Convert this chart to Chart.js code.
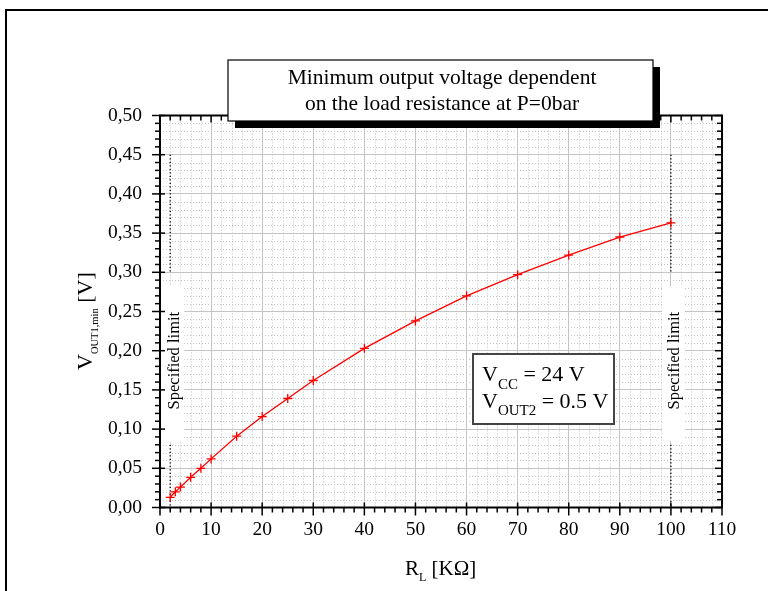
<!DOCTYPE html>
<html><head><meta charset="utf-8">
<script src="https://cdn.jsdelivr.net/npm/chart.js@4.4.1/dist/chart.umd.min.js"></script>
<style>html,body{margin:0;padding:0;background:#fff;}#wrap{width:768px;height:591px;position:relative;}canvas{display:block;}</style>
</head><body><div id="wrap"><canvas id="c" width="768" height="591"></canvas></div>
<script>
// ---- data ----
const loadResistance = [2, 3, 4, 6, 8, 10, 15, 20, 25, 30, 40, 50, 60, 70, 80, 90, 100];
const vout1Min = [0.013, 0.020, 0.026, 0.0385, 0.050, 0.062, 0.091, 0.116, 0.139, 0.162, 0.203, 0.238, 0.270, 0.297, 0.322, 0.345, 0.363];
const xTickValues = [0, 10, 20, 30, 40, 50, 60, 70, 80, 90, 100, 110];
const yTickValues = [0, 0.05, 0.10, 0.15, 0.20, 0.25, 0.30, 0.35, 0.40, 0.45, 0.50];
const specifiedLimits = [2, 100];
const specifiedLimitLabel = "Specified limit";
const titleLines = ["Minimum output voltage dependent", "on the load resistance at P=0bar"];
const conditionLines = [["V", "CC", " = 24 V"], ["V", "OUT2", " = 0.5 V"]];
const xTitle = ["R", "L", " [K\u03A9]"];
const yTitle = ["V", "OUT1,min", " [V]"];

const SERIF = "'Liberation Serif','Times New Roman',serif";

function line(ctx, x1, y1, x2, y2) { ctx.beginPath(); ctx.moveTo(x1, y1); ctx.lineTo(x2, y2); ctx.stroke(); }

function drawSubText(ctx, parts, x, y, big, small, subDy) {
  ctx.textAlign = 'left'; ctx.textBaseline = 'alphabetic';
  ctx.font = big + 'px ' + SERIF; ctx.fillText(parts[0], x, y); x += ctx.measureText(parts[0]).width;
  ctx.font = small + 'px ' + SERIF; ctx.fillText(parts[1], x, y + subDy); x += ctx.measureText(parts[1]).width;
  ctx.font = big + 'px ' + SERIF; ctx.fillText(parts[2], x, y);
}

const decor = {
  id: 'decor',
  beforeDraw(chart) {
    const ctx = chart.ctx; ctx.save(); ctx.fillStyle = '#fff'; ctx.fillRect(0, 0, chart.width, chart.height); ctx.restore();
  },
  beforeDatasetsDraw(chart) {
    const ctx = chart.ctx, xa = chart.scales.x, ya = chart.scales.y, ca = chart.chartArea;
    ctx.save();
    // minor grid
    ctx.strokeStyle = '#c2c2c2'; ctx.lineWidth = 1; ctx.setLineDash([1, 2]);
    for (let i = 1; i < 55; i++) { if (i % 5 === 0) continue; const px = Math.round(xa.getPixelForValue(i * 2)) + 0.5; line(ctx, px, ca.top, px, ca.bottom); }
    for (let i = 1; i < 50; i++) { if (i % 5 === 0) continue; const py = Math.round(ya.getPixelForValue(i / 100)) + 0.5; line(ctx, ca.left, py, ca.right, py); }
    ctx.setLineDash([]);
    // specified limits
    specifiedLimits.forEach((v) => {
      const px = xa.getPixelForValue(v);
      ctx.fillStyle = '#fff';
      ctx.fillRect(px - 9, ya.getPixelForValue(0.282), 23, ya.getPixelForValue(0.085) - ya.getPixelForValue(0.282));
      ctx.strokeStyle = '#000'; ctx.lineWidth = 1.3; ctx.setLineDash([1.3, 2.2]);
      line(ctx, px, ya.getPixelForValue(0.45), px, ya.getPixelForValue(0.30));
      line(ctx, px, ya.getPixelForValue(0.08), px, ya.getPixelForValue(0));
      ctx.setLineDash([]);
      ctx.save();
      ctx.translate(px + 4, (ya.getPixelForValue(0.282) + ya.getPixelForValue(0.085)) / 2 - 3);
      ctx.rotate(-Math.PI / 2);
      ctx.fillStyle = '#000'; ctx.font = '16.5px ' + SERIF; ctx.textAlign = 'center'; ctx.textBaseline = 'middle';
      ctx.fillText(specifiedLimitLabel, 0, 0);
      ctx.restore();
    });
    // conditions box
    ctx.fillStyle = '#fff'; ctx.fillRect(473, 354, 141, 70);
    ctx.strokeStyle = '#444'; ctx.lineWidth = 2; ctx.strokeRect(473, 354, 141, 70);
    ctx.fillStyle = '#000';
    drawSubText(ctx, conditionLines[0], 482, 381, 22, 15, 8);
    drawSubText(ctx, conditionLines[1], 482, 408, 22, 15, 7);
    ctx.restore();
  },
  afterDraw(chart) {
    const ctx = chart.ctx, xa = chart.scales.x, ya = chart.scales.y, ca = chart.chartArea;
    ctx.save();
    // ticks
    ctx.strokeStyle = '#000'; ctx.lineWidth = 1.5;
    for (let i = 0; i <= 55; i++) {
      const px = xa.getPixelForValue(i * 2), major = i % 5 === 0;
      line(ctx, px, ca.bottom - (major ? 5 : 0), px, ca.bottom + (major ? 8 : 5));
      line(ctx, px, ca.top, px, ca.top + (major ? 7 : 5));
    }
    for (let i = 0; i <= 50; i++) {
      const py = ya.getPixelForValue(i / 100), major = i % 5 === 0;
      line(ctx, ca.left - (major ? 8 : 5), py, ca.left + (major ? 5 : 0), py);
      line(ctx, ca.right, py, ca.right - (major ? 7 : 5), py);
    }
    // axis box
    ctx.lineWidth = 2; ctx.strokeRect(ca.left, ca.top, ca.right - ca.left, ca.bottom - ca.top);
    // title box with shadow
    ctx.fillStyle = '#000'; ctx.fillRect(235, 67, 425, 61);
    ctx.fillStyle = '#fff'; ctx.fillRect(228, 60, 425, 61);
    ctx.strokeStyle = '#000'; ctx.lineWidth = 1.2; ctx.strokeRect(228, 60, 425, 61);
    ctx.fillStyle = '#000'; ctx.font = '21.5px ' + SERIF; ctx.textAlign = 'center'; ctx.textBaseline = 'alphabetic';
    ctx.fillText(titleLines[0], 442, 84);
    ctx.fillText(titleLines[1], 442, 110);
    // x title
    drawSubText(ctx, xTitle, 405, 575, 21, 12, 6);
    // y title
    ctx.save(); ctx.translate(92, 370); ctx.rotate(-Math.PI / 2);
    drawSubText(ctx, yTitle, 0, 0, 22, 10.5, 6);
    ctx.restore();
    // outer frame
    ctx.strokeStyle = '#000'; ctx.lineWidth = 2; ctx.strokeRect(6, 10, 800, 700);
    ctx.restore();
  }
};

new Chart(document.getElementById('c'), {
  type: 'scatter',
  data: {
    datasets: [{
      data: loadResistance.map((x, i) => ({ x: x, y: vout1Min[i] })),
      showLine: true,
      borderColor: '#ff0000', backgroundColor: '#ff0000', borderWidth: 1.3,
      pointStyle: 'cross', pointRadius: 4.5, pointBorderWidth: 1.3, pointBorderColor: '#ff0000',
      tension: 0
    }]
  },
  options: {
    responsive: false, animation: false, devicePixelRatio: 1,
    layout: { padding: { left: 0, top: 115.5, right: 46, bottom: 0 } },
    plugins: { legend: { display: false }, tooltip: { enabled: false }, title: { display: false } },
    scales: {
      x: {
        type: 'linear', min: 0, max: 110,
        afterBuildTicks: (s) => { s.ticks = xTickValues.map((v) => ({ value: v })); },
        afterFit: (s) => { s.height = 83.5; },
        ticks: { autoSkip: false, maxRotation: 0, minRotation: 0, padding: 11, color: '#000', font: { family: SERIF, size: 19.5 }, callback: (v) => String(v) },
        grid: { color: '#c4c4c4', lineWidth: 1, drawTicks: false },
        border: { display: false }
      },
      y: {
        type: 'linear', min: 0, max: 0.5,
        afterBuildTicks: (s) => { s.ticks = yTickValues.map((v) => ({ value: v })); },
        afterFit: (s) => { s.width = 160; },
        ticks: { autoSkip: false, padding: 18, color: '#000', font: { family: SERIF, size: 19.5 }, callback: (v) => Number(v).toFixed(2).replace('.', ',') },
        grid: { color: '#c4c4c4', lineWidth: 1, drawTicks: false },
        border: { display: false }
      }
    }
  },
  plugins: [decor]
});
</script>
</body></html>
